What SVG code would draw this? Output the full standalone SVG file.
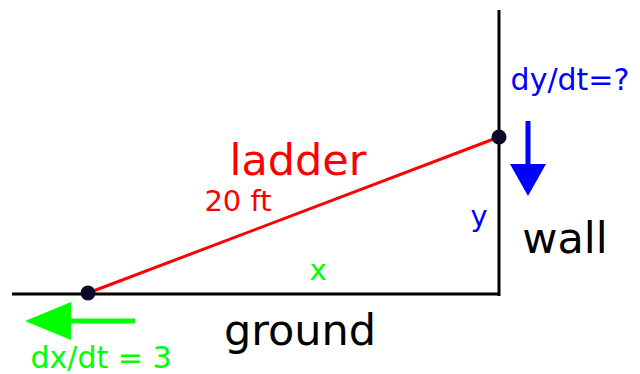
<svg xmlns="http://www.w3.org/2000/svg" width="640" height="374" viewBox="0 0 640 374">
<style>
text{font-family:"DejaVu Sans",sans-serif;text-anchor:middle}
.ln{stroke:#000;stroke-width:3;fill:none}
.dot{fill:#0a0a28}
.big{font-size:43px}
.sm{font-size:29px}
.md{font-size:30px}
</style>
<rect width="640" height="374" fill="#fff"/>
<g id="connectors">
<line class="ln" x1="12" y1="294" x2="500" y2="294"/>
<line class="ln" x1="499" y1="10" x2="499" y2="296"/>
<line x1="88" y1="293" x2="499" y2="137" stroke="#f00" stroke-width="3"/>
<line x1="135" y1="321" x2="68" y2="321" stroke="#0f0" stroke-width="5"/>
<polygon points="25,321 71,302 71,340" fill="#0f0"/>
<line x1="528" y1="121" x2="528" y2="168" stroke="#00f" stroke-width="5"/>
<polygon points="510,164 546,164 528,196" fill="#00f"/>
</g>
<g id="foot"><circle class="dot" cx="88" cy="293" r="7.5"/></g>
<g id="top"><circle class="dot" cx="499" cy="137" r="7.5"/></g>
<g id="labels">
<text class="big" x="298" y="175" fill="#f00">ladder</text>
<text class="sm" x="238" y="211" fill="#f00">20 ft</text>
<text class="sm" x="318" y="280" fill="#0f0">x</text>
<text class="sm" x="479" y="226" fill="#00f">y</text>
<text class="big" x="565" y="253" fill="#000">wall</text>
<text class="big" x="300" y="345" fill="#000">ground</text>
<text class="md" x="101" y="368" fill="#0f0">dx/dt = 3</text>
<text class="md" x="570" y="90" fill="#00f">dy/dt=?</text>
</g>
</svg>
